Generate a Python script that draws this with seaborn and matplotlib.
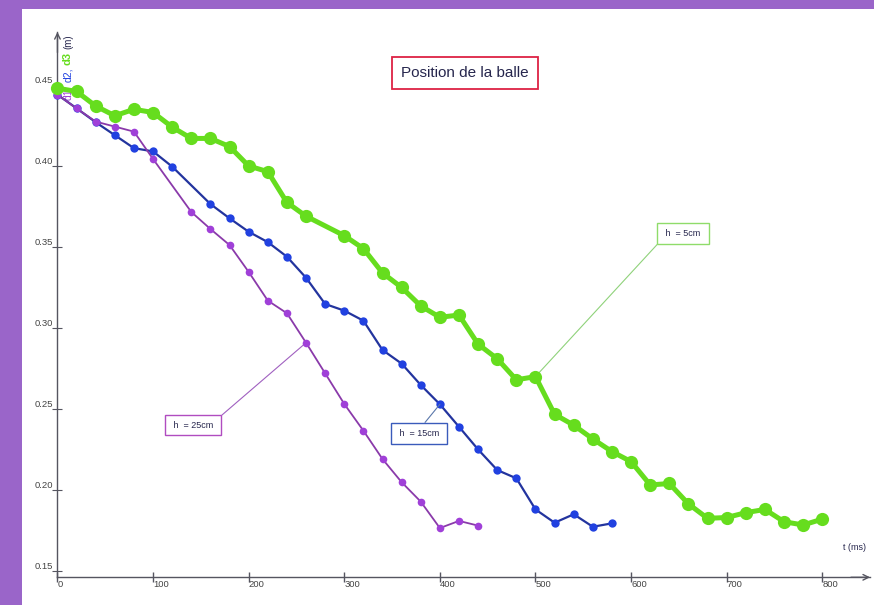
import matplotlib
matplotlib.use("Agg")
import matplotlib.pyplot as plt
import seaborn as sns

# h = 5 cm (d3), green
t_green = [0, 20, 40, 60, 80, 100, 120, 140, 160, 180, 200, 220, 240, 260,
           300, 320, 340, 360, 380, 400, 420, 440, 460, 480, 500, 520, 540,
           560, 580, 600, 620, 640, 660, 680, 700, 720, 740, 760, 780, 800]
d_green = [0.448, 0.446, 0.437, 0.431, 0.435, 0.433, 0.424, 0.417, 0.417, 0.412,
           0.400, 0.3965, 0.3775, 0.369, 0.357, 0.349, 0.334, 0.325, 0.3136, 0.3066,
           0.308, 0.290, 0.281, 0.268, 0.270, 0.2467, 0.240, 0.2315, 0.2237, 0.2175,
           0.2031, 0.204, 0.1914, 0.1825, 0.183, 0.186, 0.188, 0.1804, 0.1784, 0.182]

# h = 15 cm (d2), blue
t_blue = [0, 20, 40, 60, 80, 100, 120, 160, 180, 200, 220, 240, 260, 280, 300,
          320, 340, 360, 380, 400, 420, 440, 460, 480, 500, 520, 540, 560, 580]
d_blue = [0.444, 0.4356, 0.427, 0.419, 0.411, 0.409, 0.3996, 0.3765, 0.3677, 0.3594,
          0.353, 0.344, 0.331, 0.3148, 0.3107, 0.3045, 0.2864, 0.278, 0.2648, 0.2529,
          0.239, 0.225, 0.2123, 0.2072, 0.188, 0.1798, 0.185, 0.1773, 0.1794]

# h = 25 cm (d1), purple
t_purple = [0, 20, 40, 60, 80, 100, 140, 160, 180, 200, 220, 240, 260, 280, 300,
            320, 340, 360, 380, 400, 420, 440]
d_purple = [0.444, 0.4355, 0.4274, 0.4243, 0.4212, 0.4043, 0.3716, 0.3611, 0.3512,
            0.3346, 0.3169, 0.3091, 0.2909, 0.272, 0.2531, 0.2366, 0.2191, 0.2048,
            0.1928, 0.1765, 0.1809, 0.178]

x_ticks = [0, 100, 200, 300, 400, 500, 600, 700, 800]
y_ticks = [0.15, 0.20, 0.25, 0.30, 0.35, 0.40, 0.45]

GREEN = "#66dd1e"
BLUE_LINE = "#23349e"
BLUE_DOT = "#2141e0"
PURPLE_LINE = "#8a3aaa"
PURPLE_DOT = "#a040d8"
AXIS = "#555560"
TEXT = "#26264d"

sns.set_style("white")
plt.rcParams["font.family"] = ["Liberation Sans", "DejaVu Sans"]

fig = plt.figure(figsize=(8.74, 6.05), dpi=100, facecolor="#9a65c9")
ax = fig.add_axes([22 / 874, 0, 852 / 874, 596 / 605])
ax.set_facecolor("white")

sns.lineplot(x=t_blue, y=d_blue, ax=ax, color=BLUE_LINE, linewidth=1.6,
             marker="o", markersize=6, markerfacecolor=BLUE_DOT,
             markeredgewidth=0, zorder=3)
sns.lineplot(x=t_purple, y=d_purple, ax=ax, color=PURPLE_LINE, linewidth=1.3,
             marker="o", markersize=5.5, markerfacecolor=PURPLE_DOT,
             markeredgewidth=0, zorder=4)
sns.lineplot(x=t_green, y=d_green, ax=ax, color=GREEN, linewidth=3.6,
             marker="o", markersize=9.5, markeredgewidth=0, zorder=5)

ax.set_xlim(-37.1, 854.1)
ax.set_ylim(0.129, 0.4969)
ax.set_xlabel("")
ax.set_ylabel("")

# axes through the origin, with arrow heads
y_floor = 0.1461
for side in ["top", "right"]:
    ax.spines[side].set_visible(False)
ax.spines["left"].set_position(("data", 0))
ax.spines["bottom"].set_position(("data", y_floor))
ax.spines["left"].set_bounds(y_floor, 0.4827)
ax.spines["bottom"].set_bounds(0, 850)
for side in ["left", "bottom"]:
    ax.spines[side].set_color(AXIS)
    ax.spines[side].set_linewidth(1)
ax.annotate("", xy=(0, 0.4827), xytext=(0, 0.47),
            arrowprops=dict(arrowstyle="->", color=AXIS, lw=1, shrinkA=0, shrinkB=0))
ax.annotate("", xy=(850, y_floor), xytext=(830, y_floor),
            arrowprops=dict(arrowstyle="->", color=AXIS, lw=1, shrinkA=0, shrinkB=0))

ax.set_xticks(x_ticks)
ax.set_xticklabels([str(v) for v in x_ticks])
ax.set_yticks(y_ticks)
ax.set_yticklabels([f"{v:.2f}" for v in y_ticks])
ax.tick_params(axis="x", direction="inout", length=7, width=1, pad=-1.5,
               labelsize=6.8, labelcolor="#444444", color=AXIS, bottom=True)
ax.tick_params(axis="y", direction="inout", length=6.5, width=0.8, pad=0,
               labelsize=6.8, labelcolor="#444444", color=AXIS, left=True)
plt.setp(ax.get_xticklabels(), ha="left")
plt.setp(ax.get_yticklabels(), va="bottom")

# axis titles
ax.text(834, 0.1642, "t (ms)", fontsize=6.5, color=TEXT, ha="center", va="center")
t1 = ax.text(11, 0.441, "d1,", rotation=90, color=PURPLE_DOT, fontsize=7.5,
             ha="center", va="bottom", zorder=1)
t2 = ax.annotate("d2,", xy=(0.5, 1), xycoords=t1, xytext=(0, 2),
                 textcoords="offset points", rotation=90, color=BLUE_DOT,
                 fontsize=7.5, ha="center", va="bottom")
t3 = ax.annotate("d3", xy=(0.5, 1), xycoords=t2, xytext=(0, 2),
                 textcoords="offset points", rotation=90, color=GREEN,
                 fontsize=8, fontweight="bold", ha="center", va="bottom")
ax.annotate("(m)", xy=(0.5, 1), xycoords=t3, xytext=(0, 2),
            textcoords="offset points", rotation=90, color=TEXT,
            fontsize=7, ha="center", va="bottom")

# title box
ax.text(426, 0.4574, "Position de la balle", fontsize=11, color=TEXT,
        ha="center", va="center",
        bbox=dict(boxstyle="square,pad=0.6", fc="white", ec="#dd2244", lw=1.3))

# series labels with connectors
label_box = dict(fontsize=6.5, color=TEXT, ha="center", va="center")
i5 = t_green.index(500)
ax.annotate(" h  = 5cm ", xy=(t_green[i5], d_green[i5]), xytext=(654.3, 0.3583),
            bbox=dict(boxstyle="square,pad=0.65", fc="white", ec="#8fdc6a", lw=1),
            arrowprops=dict(arrowstyle="-", color="#8fd27a", lw=0.8,
                            relpos=(0, 0), shrinkA=0, shrinkB=0), **label_box)
i15 = t_blue.index(400)
ax.annotate(" h  = 15cm ", xy=(t_blue[i15], d_blue[i15]), xytext=(378.1, 0.235),
            bbox=dict(boxstyle="square,pad=0.65", fc="white", ec="#3a5bbb", lw=1),
            arrowprops=dict(arrowstyle="-", color="#5a77aa", lw=0.8,
                            relpos=(0.52, 1), shrinkA=0, shrinkB=0), **label_box)
i25 = t_purple.index(260)
ax.annotate(" h  = 25cm ", xy=(t_purple[i25], d_purple[i25]), xytext=(142, 0.2401),
            bbox=dict(boxstyle="square,pad=0.65", fc="white", ec="#b04cc0", lw=1),
            arrowprops=dict(arrowstyle="-", color="#a060c0", lw=0.8,
                            relpos=(1, 1), shrinkA=0, shrinkB=0), **label_box)

fig.savefig("out.png", dpi=100, facecolor=fig.get_facecolor())
plt.close(fig)
